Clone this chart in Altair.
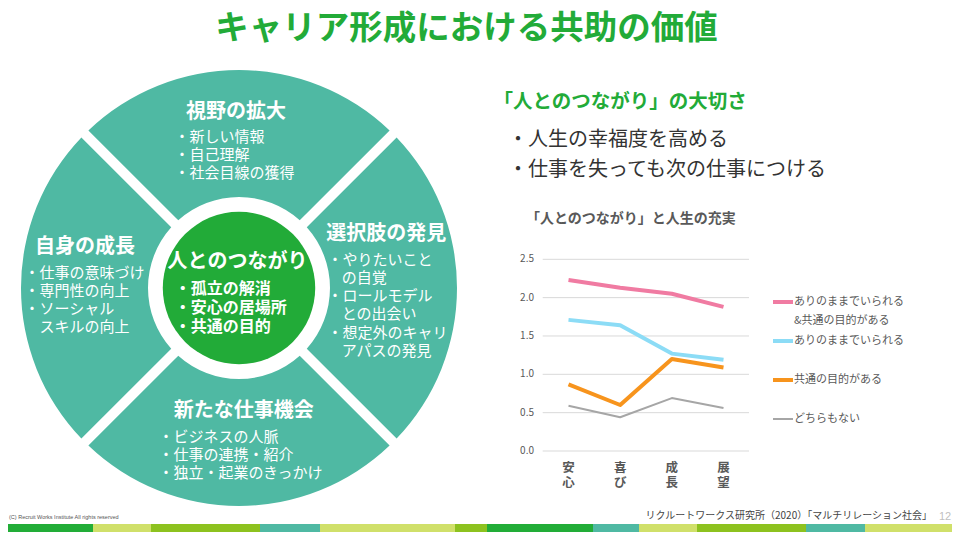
import math
import altair as alt
import pandas as pd

OFF = 8            # page margin: reference pixel (X, Y) -> chart (X-8, Y-8)
W, H = 944, 524
FONT = "Noto Sans CJK JP"
GREEN = "#22ab38"
TEAL = "#4fb9a3"
GRAY_TXT = "#595959"

# ---------------- data ----------------
cats = ["安心", "喜び", "成長", "展望"]
series = ["ありのままでいられる&共通の目的がある", "ありのままでいられる", "共通の目的がある", "どちらもない"]
legend_labels = ["ありのままでいられる\n&共通の目的がある", "ありのままでいられる", "共通の目的がある", "どちらもない"]
v_both = [2.23, 2.13, 2.05, 1.88]
v_asis = [1.71, 1.64, 1.27, 1.19]
v_purpose = [0.87, 0.60, 1.20, 1.09]
v_none = [0.59, 0.44, 0.69, 0.56]
y_ticks = [0.0, 0.5, 1.0, 1.5, 2.0, 2.5]
line_colors = ["#f07ba2", "#8cdcf6", "#f7941d", "#a6a6a6"]
line_widths = [4, 4, 4, 2]

quadrants = ["視野の拡大", "選択肢の発見", "新たな仕事機会", "自身の成長"]
quadrant_share = [1, 1, 1, 1]
# (text, indented continuation line?)
items_top = [("・新しい情報", 0), ("・自己理解", 0), ("・社会目線の獲得", 0)]
items_right = [("・やりたいこと", 0), ("の自覚", 1), ("・ロールモデル", 0), ("との出会い", 1),
               ("・想定外のキャリ", 0), ("アパスの発見", 1)]
items_left = [("・仕事の意味づけ", 0), ("・専門性の向上", 0), ("・ソーシャル", 0), ("スキルの向上", 1)]
items_bottom = [("・ビジネスの人脈", 0), ("・仕事の連携・紹介", 0), ("・独立・起業のきっかけ", 0)]
items_center = [("・孤立の解消", 0), ("・安心の居場所", 0), ("・共通の目的", 0)]

stripe_widths = [93, 58, 109, 60, 135, 32, 106, 46, 58, 109, 59, 95]
stripe_colors = ["#22ad38", "#d0e06a", "#8dc21f", "#4fb9a3", "#d0e06a", "#8dc21f",
                 "#22ad38", "#4fb9a3", "#d0e06a", "#8dc21f", "#4fb9a3", "#d0e06a"]

# ---------------- helpers ----------------
one = pd.DataFrame({"k": [0]})


def txt(s, x, y, size, color, weight="normal", align="left", baseline="middle", lh=None, font=FONT):
    kw = dict(text=s, font=font, fontSize=size, fontWeight=weight, color=color,
              align=align, baseline=baseline, lineBreak="\n")
    if lh is not None:
        kw["lineHeight"] = lh
    return alt.Chart(one).mark_text(**kw).encode(x=alt.value(x - OFF), y=alt.value(y - OFF))


def block(items, x_bullet, x_indent, y0, lh, size, weight="normal", color="#ffffff"):
    df = pd.DataFrame({"t": [t for t, _ in items], "ind": [d for _, d in items],
                       "i": list(range(len(items)))})
    return alt.Chart(df).mark_text(font=FONT, fontSize=size, fontWeight=weight, color=color,
                                   align="left", baseline="middle").encode(
        x=alt.X("ind:Q", scale=alt.Scale(domain=[0, 1], range=[x_bullet - OFF, x_indent - OFF],
                                         nice=False, zero=False), axis=None),
        y=alt.Y("i:Q", scale=alt.Scale(domain=[0, 1], range=[y0 - OFF, y0 + lh - OFF],
                                       nice=False, zero=False), axis=None),
        text="t:N",
    )


layers = []

# ---------------- circle diagram ----------------
CX, CY = 239 - OFF, 288 - OFF
arc_df = pd.DataFrame({"q": quadrants, "v": quadrant_share})
layers.append(
    alt.Chart(arc_df).mark_arc(innerRadius=91, outerRadius=218, padAngle=0.042, color=TEAL).encode(
        theta=alt.Theta("v:Q", stack=True,
                        scale=alt.Scale(domain=[0, 4], range=[-math.pi / 4, 7 * math.pi / 4])),
        x=alt.value(CX), y=alt.value(CY),
    )
)
layers.append(
    alt.Chart(one).mark_circle(size=math.pi * 86 ** 2, color=GREEN, opacity=1).encode(
        x=alt.value(CX), y=alt.value(CY)
    )
)

W_ = "#ffffff"
layers += [
    txt(quadrants[0], 236, 111.7, 20, W_, "bold", "center"),
    block(items_top, 174.5, 190, 137.3, 18.0, 15),
    txt(quadrants[1], 386.3, 234, 20, W_, "bold", "center"),
    block(items_right, 327.5, 341.7, 260, 18.15, 15),
    txt(quadrants[3], 85, 247.3, 20, W_, "bold", "center"),
    block(items_left, 24.5, 39.5, 273.3, 17.8, 15),
    txt(quadrants[2], 243.7, 410.7, 20, W_, "bold", "center"),
    block(items_bottom, 158.5, 174, 437.3, 18.0, 15),
    txt("人とのつながり", 237.5, 261.7, 20, W_, "bold", "center"),
    block(items_center, 174.8, 193, 289.3, 18.7, 16, "bold"),
]

# ---------------- title & right texts ----------------
layers += [
    txt("キャリア形成における共助の価値", 466.5, 28.5, 33.5, GREEN, "bold", "center"),
    txt("「人とのつながり」の大切さ", 493.5, 101.7, 19.5, GREEN, "bold", "left"),
    txt("・人生の幸福度を高める", 508, 140, 20, "#333333", "normal", "left"),
    txt("・仕事を失っても次の仕事につける", 508, 170, 20, "#333333", "normal", "left"),
    txt("「人とのつながり」と人生の充実", 526, 218.5, 14, GRAY_TXT, "bold", "left"),
]

# ---------------- line chart ----------------
xscale = alt.Scale(type="point", domain=cats, range=[568.5 - OFF, 723.5 - OFF], padding=0)
yscale = alt.Scale(domain=[0, 2.5], range=[451 - OFF, 259.3 - OFF], nice=False, zero=False)

grid_df = pd.DataFrame({"v": y_ticks})
layers.append(
    alt.Chart(grid_df).mark_rule(color="#d9d9d9", strokeWidth=1).encode(
        y=alt.Y("v:Q", scale=yscale, axis=None),
        x=alt.value(542.7 - OFF), x2=alt.value(749 - OFF),
    )
)
layers.append(
    alt.Chart(grid_df).mark_text(align="right", baseline="middle", fontSize=10, font=FONT,
                                 color=GRAY_TXT).encode(
        y=alt.Y("v:Q", scale=yscale, axis=None),
        x=alt.value(534 - OFF),
        text=alt.Text("v:Q", format=".1f"),
    )
)
cat_df = pd.DataFrame({"cat": cats, "lbl": ["\n".join(c) for c in cats]})
layers.append(
    alt.Chart(cat_df).mark_text(baseline="top", fontSize=12.5, fontWeight="bold", font=FONT,
                                lineHeight=14.5, lineBreak="\n", color=GRAY_TXT).encode(
        x=alt.X("cat:N", scale=xscale, axis=None),
        y=alt.value(462 - OFF),
        text="lbl:N",
    )
)

rows = []
for s, vals in zip(series, [v_both, v_asis, v_purpose, v_none]):
    for c, v in zip(cats, vals):
        rows.append({"series": s, "cat": c, "value": v})
line_df = pd.DataFrame(rows)
color_enc = alt.Color("series:N", scale=alt.Scale(domain=series, range=line_colors), legend=None)
width_enc = alt.StrokeWidth("series:N", scale=alt.Scale(type="ordinal", domain=series, range=line_widths),
                            legend=None)
for s in reversed(series):
    layers.append(
        alt.Chart(line_df[line_df.series == s]).mark_line(strokeJoin="round", strokeCap="butt").encode(
            x=alt.X("cat:N", scale=xscale, axis=None),
            y=alt.Y("value:Q", scale=yscale, axis=None),
            color=color_enc,
            strokeWidth=width_enc,
        )
    )

# legend (drawn from the series list)
leg_df = pd.DataFrame({"series": series, "label": legend_labels})
yleg = alt.Scale(type="point", domain=series, range=[302 - OFF, 419 - OFF], padding=0)
layers.append(
    alt.Chart(leg_df).mark_rule().encode(
        y=alt.Y("series:N", scale=yleg, axis=None),
        x=alt.value(773 - OFF), x2=alt.value(793 - OFF),
        color=color_enc, strokeWidth=width_enc,
    )
)
layers.append(
    alt.Chart(leg_df).mark_text(align="left", baseline="top", dy=-6, fontSize=11, font=FONT,
                                lineHeight=18.7, lineBreak="\n", color=GRAY_TXT).encode(
        y=alt.Y("series:N", scale=yleg, axis=None),
        x=alt.value(794 - OFF),
        text="label:N",
    )
)

# ---------------- footer ----------------
stripe_df = pd.DataFrame({"i": list(range(len(stripe_widths))), "w": stripe_widths, "c": stripe_colors})
layers.append(
    alt.Chart(stripe_df).transform_window(
        cum="sum(w)", sort=[{"field": "i"}], frame=[None, 0]
    ).transform_calculate(x0="datum.cum - datum.w").mark_rect().encode(
        x=alt.X("x0:Q", scale=alt.Scale(domain=[0, 960], range=[-OFF, 960 - OFF], nice=False, zero=False),
                axis=None),
        x2="cum:Q",
        y=alt.value(H - 8), y2=alt.value(H),
        color=alt.Color("c:N", scale=None),
    )
)
layers += [
    txt("(C) Recruit Works Institute All rights reserved", 9, 517, 5.5, "#555555", "normal", "left",
        font="Liberation Sans"),
    txt("リクルートワークス研究所（2020）「マルチリレーション社会」", 932, 516, 10, "#444444", "normal", "right"),
    txt("12", 945, 517, 11, "#bfbfbf", "normal", "center", font="Liberation Sans"),
]

chart = alt.layer(*layers).properties(
    width=W, height=H, padding=0, background="white",
    autosize=alt.AutoSizeParams(type="none"),
).resolve_scale(
    x="independent", y="independent", color="independent", strokeWidth="independent"
).configure_view(stroke=None)

chart.save("out.html", embed_options={"renderer": "svg", "actions": False})
